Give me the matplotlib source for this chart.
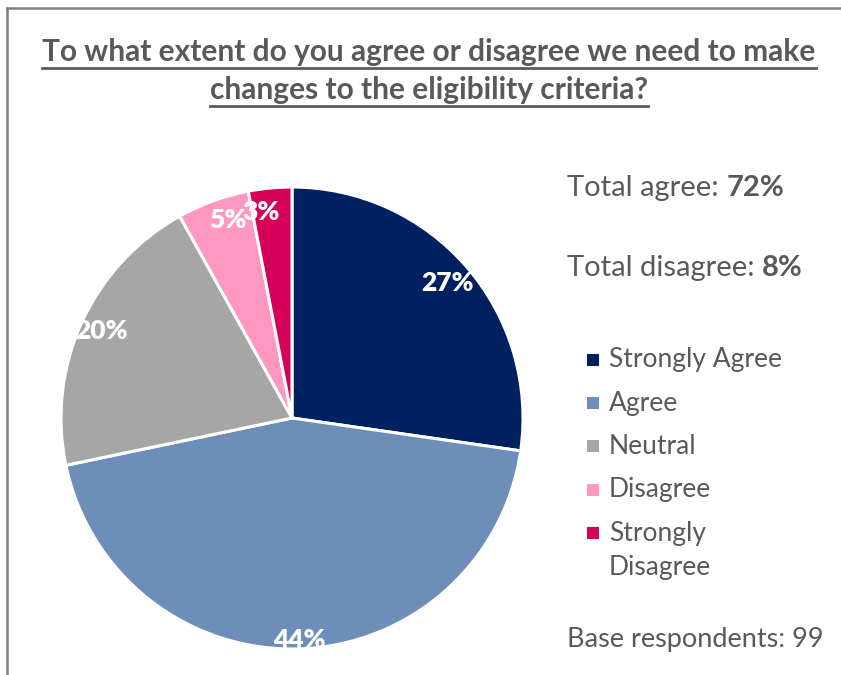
import numpy as np
import matplotlib
matplotlib.use("Agg")
import matplotlib.pyplot as plt
from matplotlib.lines import Line2D
from matplotlib.patches import Rectangle

# survey responses (percent of respondents)
categories = ["Strongly Agree", "Agree", "Neutral", "Disagree", "Strongly\nDisagree"]
shares = [27, 44, 20, 5, 3]
colors = ["#002060", "#6D8EB8", "#A6A6A6", "#FF97C1", "#D5005A"]
total_agree = 72
total_disagree = 8
base_respondents = 99

title_lines = ["To what extent do you agree or disagree we need to make",
               "changes to the eligibility criteria?"]

grey = "#595959"
plt.rcParams["font.family"] = ["Lato", "DejaVu Sans"]

W, H = 841, 675
fig = plt.figure(figsize=(W / 100, H / 100), dpi=100)


def fx(px):
    return px / W


def fy(py):
    return 1 - py / H


# frame: only top and left edges show
fig.add_artist(Line2D([fx(7), 1.0], [fy(8)] * 2, color="#808080", lw=1.8))
fig.add_artist(Line2D([fx(7), fx(7)], [0, fy(8)], color="#808080", lw=1.8))

# pie
ax = fig.add_axes([fx(61), fy(649), fx(462), 462 / H])
wedges, _ = ax.pie(shares, colors=colors, startangle=90, counterclock=False,
                   wedgeprops=dict(edgecolor="white", linewidth=2.2))
ax.set_xlim(-1, 1)
ax.set_ylim(-1, 1)
ax.set_aspect("equal")
ax.axis("off")

dist = [0.89, 0.96, 0.905, 0.90, 0.90]
nudge = [0, 0, 0, -2.0, 3.0]
for w, v, d, n in zip(wedges, shares, dist, nudge):
    ang = np.deg2rad((w.theta1 + w.theta2) / 2 + n)
    ax.text(d * np.cos(ang), d * np.sin(ang), f"{v}%", color="white",
            fontsize=19, fontweight="heavy", ha="center", va="center")

# title with underline
fig.canvas.draw()
renderer = fig.canvas.get_renderer()
for i, line in enumerate(title_lines):
    t = fig.text(fx(429), fy(52 + 38 * i), line, ha="center", va="center",
                 fontsize=21.5, fontweight="bold", color=grey)
    bb = t.get_window_extent(renderer).transformed(fig.transFigure.inverted())
    uy = fy(68 + 38 * i)
    fig.add_artist(Line2D([bb.x0, bb.x1], [uy, uy], color=grey, lw=2.0))

# totals: plain label followed by a bold value
for yy, lab, val in [(188, "Total agree: ", total_agree),
                     (268, "Total disagree: ", total_disagree)]:
    t = fig.text(fx(567), fy(yy), lab, fontsize=21, color=grey, va="center")
    bb = t.get_window_extent(renderer).transformed(fig.transFigure.inverted())
    fig.text(bb.x1, fy(yy), f"{val}%", fontsize=21, color=grey,
             fontweight="bold", va="center")

# legend
leg_y = [360, 403, 446, 490, 533]
for lab, c, yy in zip(categories, colors, leg_y):
    fig.add_artist(Rectangle((fx(587), fy(yy + 6)), fx(12), 12 / H,
                             facecolor=c, edgecolor="none"))
    for k, part in enumerate(lab.split("\n")):
        fig.text(fx(609), fy(yy + 35 * k), part, fontsize=19, color=grey,
                 va="center")

fig.text(fx(567), fy(640), f"Base respondents: {base_respondents}", fontsize=19.5,
         color=grey, va="center")

fig.savefig("out.png", dpi=100)
